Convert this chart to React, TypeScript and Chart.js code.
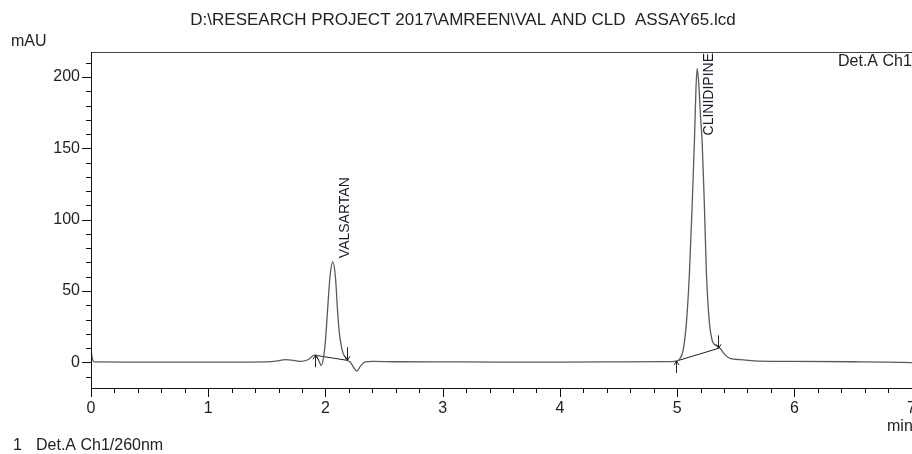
import React, { useEffect, useRef } from 'react';
import { Chart, registerables } from 'chart.js';

Chart.register(...registerables);

const FONT = '"Liberation Sans", Arial, Helvetica, sans-serif';

// ---- Text ----
const chartTitle = 'D:\\RESEARCH PROJECT 2017\\AMREEN\\VAL AND CLD  ASSAY65.lcd';
const yUnit = 'mAU';
const xUnit = 'min';
const detectorTag = 'Det.A Ch1';
const legendIndex = '1';
const legendText = 'Det.A Ch1/260nm';

// ---- Axes ----
const xMin = 0;
const xMax = 7.2;
const yMin = -18;
const yMax = 217.5;
const xTickValues = [
  0, 0.2, 0.4, 0.6, 0.8, 1, 1.2, 1.4, 1.6, 1.8, 2, 2.2, 2.4, 2.6, 2.8, 3, 3.2, 3.4, 3.6, 3.8,
  4, 4.2, 4.4, 4.6, 4.8, 5, 5.2, 5.4, 5.6, 5.8, 6, 6.2, 6.4, 6.6, 6.8, 7, 7.2,
];
const xLabelValues = [0, 1, 2, 3, 4, 5, 6, 7];
const yTickValues = [
  -10, 0, 10, 20, 30, 40, 50, 60, 70, 80, 90, 100, 110, 120, 130, 140, 150, 160, 170, 180, 190,
  200, 210,
];
const yLabelValues = [0, 50, 100, 150, 200];

// ---- Chromatogram trace (min, mAU) ----
const traceTimes = [
  0.0, 0.01, 0.03, 0.3, 0.6, 1.0, 1.3, 1.5, 1.58, 1.66, 1.73, 1.79, 1.85, 1.912, 1.94, 1.965,
  1.982, 1.998, 2.018, 2.04, 2.063, 2.085, 2.103, 2.118, 2.131, 2.15, 2.168, 2.185, 2.211, 2.24,
  2.268, 2.3, 2.339, 2.4, 2.6, 3.0, 3.5, 4.0, 4.5, 4.9, 4.994, 5.018, 5.051, 5.079, 5.105, 5.128,
  5.148, 5.16, 5.171, 5.185, 5.2, 5.213, 5.233, 5.25, 5.276, 5.299, 5.32, 5.347, 5.37, 5.4,
  5.457, 5.54, 5.7, 6.0, 6.5, 6.8, 7.0, 7.2,
];
const traceValues = [
  9, 3, 0.3, 0.2, 0.1, 0.1, 0.2, 0.3, 0.8, 1.9, 1.3, 0.6, 1.8, 5.2, 1.8, -2.2,
  2.5, 13, 36.5, 61, 70.4, 60, 36.5, 21, 13.3, 6.5, 3.7, 1.4, 0.2, -3.5,
  -6.1, -2.5, 0.3, 0.6, 0.4, 0.3, 0.2, 0.2, 0.3, 0.5, 0.9, 1.9, 8.4, 27.3, 62.4, 109,
  155.8, 190, 206, 195, 172, 155.8, 109, 62.4, 27.3, 15.4, 12.5, 11.2, 9.5, 6.1,
  2.6, 1.9, 0.8, 0.6, 0.4, 0.2, -0.2, -0.3,
];

// ---- Peaks: names, label anchors, integration start / end ----
const peakNames = ['VALSARTAN', 'CLINIDIPINE'];
const peakLabelTimes = [2.164, 5.27];
const peakLabelValues = [73, 159];
const peakStartTimes = [1.915, 4.994];
const peakStartValues = [4.9, 0.9];
const peakEndTimes = [2.185, 5.353];
const peakEndValues = [1.4, 9.8];

const decorPlugin = {
  id: 'decor',
  afterDraw(chart: any) {
    const { ctx, chartArea: ca, scales } = chart;
    const x = scales.x;
    const y = scales.y;
    ctx.save();

    // frame
    ctx.lineWidth = 1;
    ctx.strokeStyle = '#444';
    ctx.beginPath();
    ctx.moveTo(ca.left, ca.top + 0.5);
    ctx.lineTo(ca.right, ca.top + 0.5);
    ctx.moveTo(ca.right - 0.5, ca.top);
    ctx.lineTo(ca.right - 0.5, ca.bottom);
    ctx.stroke();
    ctx.strokeStyle = '#111';
    ctx.beginPath();
    ctx.moveTo(ca.left + 0.5, ca.top);
    ctx.lineTo(ca.left + 0.5, ca.bottom + 1);
    ctx.moveTo(ca.left, ca.bottom + 0.5);
    ctx.lineTo(ca.right, ca.bottom + 0.5);
    ctx.stroke();

    // tick marks
    ctx.beginPath();
    for (const t of y.ticks) {
      const py = Math.round(y.getPixelForValue(t.value)) + 0.5;
      const len = yLabelValues.includes(t.value) ? 9 : 5;
      ctx.moveTo(ca.left - len, py);
      ctx.lineTo(ca.left, py);
    }
    for (const t of x.ticks) {
      const px = Math.round(x.getPixelForValue(t.value)) + 0.5;
      const major = Math.abs(t.value - Math.round(t.value)) < 1e-6;
      const len = major ? 9 : 5;
      ctx.moveTo(px, ca.bottom);
      ctx.lineTo(px, ca.bottom + len);
    }
    ctx.stroke();

    // integration markers (arrows)
    ctx.strokeStyle = '#222';
    ctx.lineWidth = 1;
    const arrow = (t: number, v: number, up: boolean) => {
      const px = Math.round(x.getPixelForValue(t)) + 0.5;
      const py = y.getPixelForValue(v);
      const tail = up ? py + 12 : py - 13;
      ctx.beginPath();
      ctx.moveTo(px, tail);
      ctx.lineTo(px, py);
      const d = up ? 4 : -4;
      ctx.moveTo(px - 2.5, py + d);
      ctx.lineTo(px, py);
      ctx.lineTo(px + 2.5, py + d);
      ctx.stroke();
    };
    for (let i = 0; i < peakNames.length; i++) {
      arrow(peakStartTimes[i], peakStartValues[i], true);
      arrow(peakEndTimes[i], peakEndValues[i], false);
    }

    // peak labels
    ctx.fillStyle = '#1a1a2a';
    ctx.font = `14px ${FONT}`;
    ctx.textAlign = 'left';
    ctx.textBaseline = 'middle';
    for (let i = 0; i < peakNames.length; i++) {
      const px = x.getPixelForValue(peakLabelTimes[i]);
      const py = y.getPixelForValue(peakLabelValues[i]);
      ctx.save();
      ctx.translate(px, py);
      ctx.rotate(-Math.PI / 2);
      ctx.fillText(peakNames[i], 0, 0);
      ctx.restore();
    }

    // texts
    ctx.fillStyle = '#222';
    ctx.textBaseline = 'middle';
    ctx.textAlign = 'center';
    ctx.font = `17px ${FONT}`;
    ctx.fillText(chartTitle, 463, 20);
    ctx.font = `16px ${FONT}`;
    ctx.textAlign = 'left';
    ctx.fillText(yUnit, 11, 42);
    ctx.fillText(xUnit, 887, 427);
    ctx.fillText(detectorTag, 838, 62);
    ctx.fillText(legendIndex, 13, 446);
    ctx.fillText(legendText, 36, 446);
    ctx.restore();
  },
};

export default function App() {
  const canvasRef = useRef<HTMLCanvasElement | null>(null);

  useEffect(() => {
    const canvas = canvasRef.current;
    if (!canvas) return;
    const tracePoints = traceTimes.map((t, i) => ({ x: t, y: traceValues[i] }));
    const baselineSets = peakNames.map((name, i) => ({
      label: name + ' baseline',
      data: [
        { x: peakStartTimes[i], y: peakStartValues[i] },
        { x: peakEndTimes[i], y: peakEndValues[i] },
      ],
      borderColor: '#1e1e1e',
      borderWidth: 1,
      pointRadius: 0,
      tension: 0,
    }));
    const chart = new Chart(canvas, {
      type: 'line',
      data: {
        datasets: [
          {
            label: 'Det.A Ch1/260nm',
            data: tracePoints,
            borderColor: '#5a5a5a',
            borderWidth: 1.3,
            pointRadius: 0,
            cubicInterpolationMode: 'monotone',
          },
          ...baselineSets,
        ],
      },
      options: {
        animation: false,
        responsive: false,
        devicePixelRatio: 1,
        layout: { padding: { top: 52, left: 0, right: 0, bottom: 0 } },
        plugins: {
          legend: { display: false },
          title: { display: false },
          tooltip: { enabled: false },
        },
        scales: {
          x: {
            type: 'linear',
            min: xMin,
            max: xMax,
            afterBuildTicks: (scale: any) => {
              scale.ticks = xTickValues.map((v) => ({ value: v }));
            },
            afterFit: (scale: any) => {
              scale.height = 66;
              scale.paddingLeft = 0;
              scale.paddingRight = 0;
            },
            grid: { display: false, drawTicks: false },
            border: { display: false },
            ticks: {
              autoSkip: false,
              maxRotation: 0,
              padding: 11,
              color: '#222',
              font: { family: FONT, size: 16 },
              callback: (v: any) => (xLabelValues.includes(Number(v)) ? String(v) : ''),
            },
          },
          y: {
            type: 'linear',
            min: yMin,
            max: yMax,
            afterBuildTicks: (scale: any) => {
              scale.ticks = yTickValues.map((v) => ({ value: v }));
            },
            afterFit: (scale: any) => {
              scale.width = 91;
              scale.paddingTop = 0;
              scale.paddingBottom = 0;
            },
            grid: { display: false, drawTicks: false },
            border: { display: false },
            ticks: {
              autoSkip: false,
              padding: 11,
              color: '#222',
              font: { family: FONT, size: 16 },
              callback: (v: any) => (yLabelValues.includes(Number(v)) ? String(v) : ''),
            },
          },
        },
      },
      plugins: [decorPlugin],
    } as any);
    return () => chart.destroy();
  }, []);

  return (
    <div
      style={{
        position: 'fixed',
        left: 0,
        top: 0,
        width: 912,
        height: 454,
        overflow: 'hidden',
        background: '#fff',
      }}
    >
      <canvas ref={canvasRef} width={935} height={454} style={{ display: 'block' }} />
    </div>
  );
}
